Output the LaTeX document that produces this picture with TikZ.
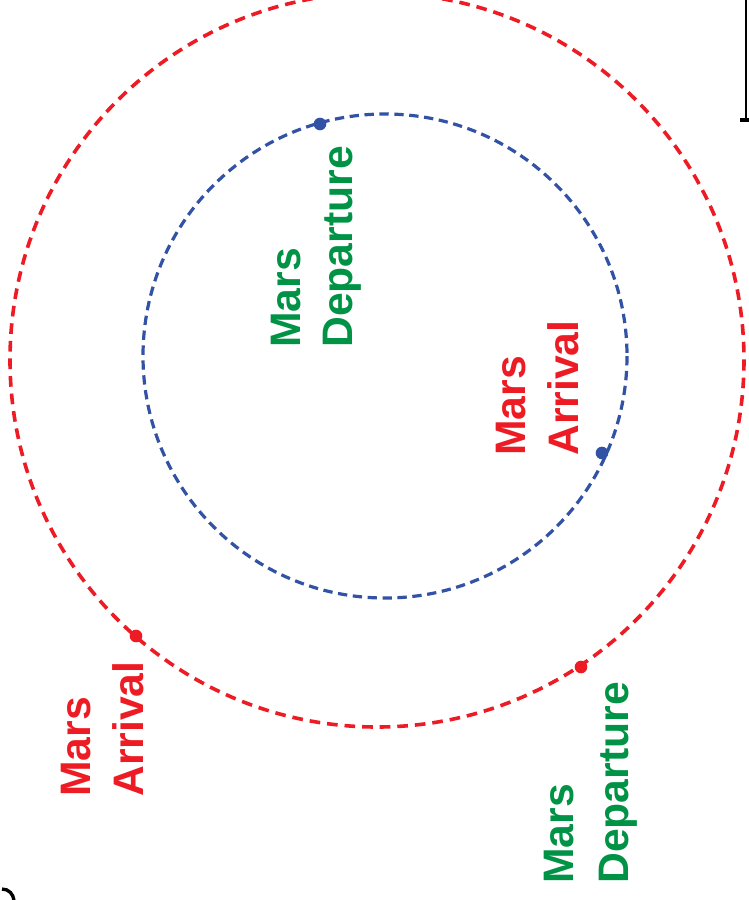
\documentclass[tikz,border=0pt]{standalone}
\usepackage{fontspec}
\setmainfont{Liberation Sans}
\definecolor{orbred}{RGB}{237,28,36}
\definecolor{orbblue}{RGB}{50,82,165}
\definecolor{labgreen}{RGB}{0,146,69}
\tikzset{
  redorbit/.style={draw=orbred, line width=2.7pt, dash pattern=on 8pt off 5.2pt},
  blueorbit/.style={draw=orbblue, line width=2.4pt, dash pattern=on 7pt off 4.2pt},
  lab/.style={rotate=90, anchor=base west, inner sep=0pt, font=\bfseries\fontsize{32}{38}\selectfont},
  redlab/.style={lab, text=orbred},
  greenlab/.style={lab, text=labgreen},
  pt/.style={circle, inner sep=0pt, minimum size=9.5pt},
}
\begin{document}
\begin{tikzpicture}[x=0.75pt,y=-0.75pt]
\useasboundingbox (0,0) rectangle (749,900);
\clip (0,0) rectangle (749,900);
% orbits
\coordinate (rc) at (377,360);
\coordinate (bc) at (385,356);
\draw[redorbit] (rc) circle[radius=367];
\draw[blueorbit] (bc) circle[radius=242];
% points on orbits
\node[pt, fill=orbblue] (bdep) at (320,124) {};
\node[pt, fill=orbblue] (barr) at (602,453) {};
\node[pt, fill=orbred] (rarr) at (136,636) {};
\node[pt, fill=orbred] (rdep) at (581,667) {};
% labels
\node[greenlab] (idep1) at (300,348) {Mars};
\node[greenlab] (idep2) at (352,348) {Departure};
\node[redlab] (iarr1) at (525,456) {Mars};
\node[redlab] (iarr2) at (578,456) {Arrival};
\node[redlab] (oarr1) at (90,797) {Mars};
\node[redlab] (oarr2) at (143,797) {Arrival};
\node[greenlab] (odep1) at (573,884) {Mars};
\node[greenlab] (odep2) at (628,884) {Departure};
% frame fragments
\coordinate (brtop) at (746,0);
\coordinate (brbot) at (746,120);
\coordinate (brtick) at (740,120);
\draw[line width=1.5pt] (brtop) -- (brbot);
\draw[line width=3pt] (brtick) -- ++(9,0);
\coordinate (fa) at (2,889);
\coordinate (fb) at (14,900);
\draw[line width=2.5pt] (fa) .. controls (9,889) and (13,894) .. (fb);
\end{tikzpicture}
\end{document}
